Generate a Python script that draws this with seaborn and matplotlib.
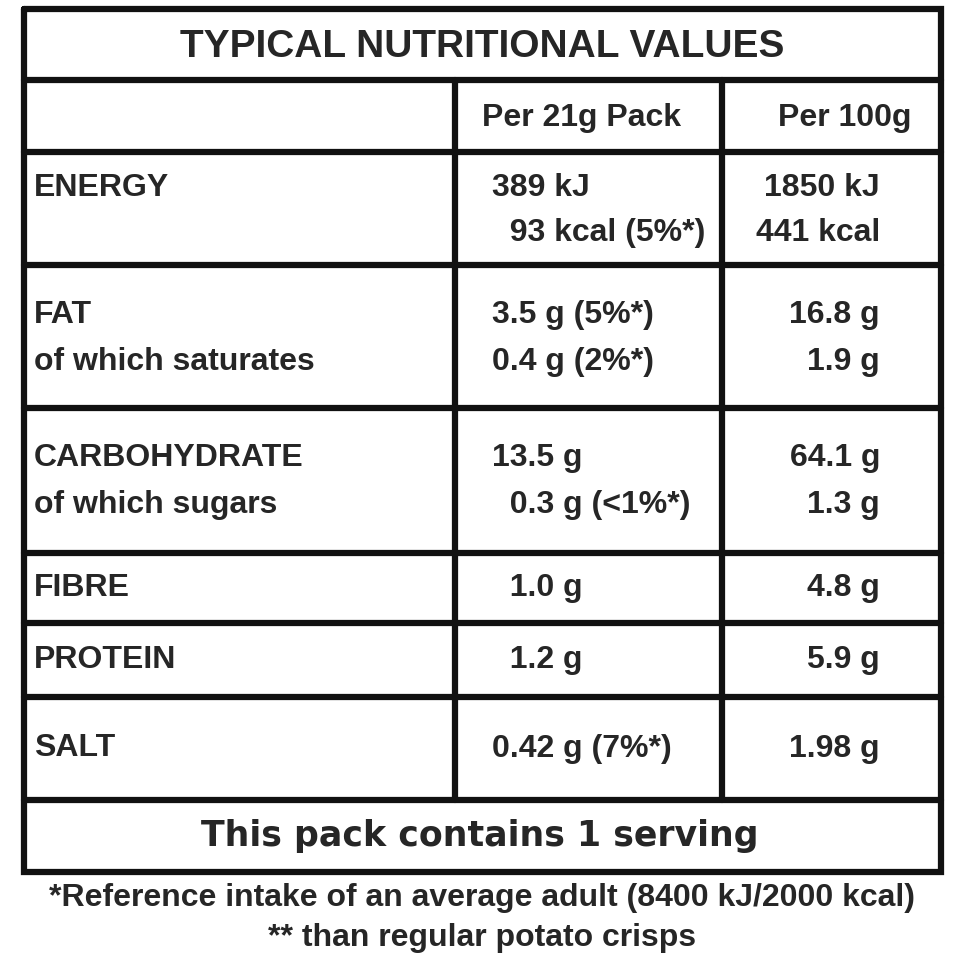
import matplotlib.pyplot as plt
import seaborn as sns

sns.set_style("white")
plt.rcParams['font.family'] = ['Liberation Sans', 'DejaVu Sans']

title = "TYPICAL NUTRITIONAL VALUES"
col_heads = ["Per 21g Pack", "Per 100g"]
row_labels = [["ENERGY"], ["FAT", "of which saturates"], ["CARBOHYDRATE", "of which sugars"],
              ["FIBRE"], ["PROTEIN"], ["SALT"]]
per_pack = [["389 kJ", "  93 kcal (5%*)"], ["3.5 g (5%*)", "0.4 g (2%*)"],
            ["13.5 g", "  0.3 g (<1%*)"], ["  1.0 g"], ["  1.2 g"], ["0.42 g (7%*)"]]
per_100g = [["1850 kJ", "441 kcal"], ["16.8 g", "1.9 g"], ["64.1 g", "1.3 g"],
            ["4.8 g"], ["5.9 g"], ["1.98 g"]]
footer = "This pack contains 1 serving"
notes = ["*Reference intake of an average adult (8400 kJ/2000 kcal)", "** than regular potato crisps"]

# row boundaries in pixels
bounds = [152, 265, 408, 553, 623, 697, 800]

fig = plt.figure(figsize=(9.6, 9.6), dpi=100)
ax = fig.add_axes([0, 0, 1, 1])
ax.set_xlim(0, 960)
ax.set_ylim(960, 0)
ax.axis('off')

L, R, T, B = 24, 941, 9, 872
lw = 4.5
ax.plot([L, R, R, L, L], [T, T, B, B, T], color='#111', lw=lw, solid_joinstyle='miter')
for y in [80] + bounds:
    ax.plot([L, R], [y, y], color='#111', lw=lw)
for x in [455, 722]:
    ax.plot([x, x], [80, 800], color='#111', lw=lw)

fs = 23
ax.text(482, 47, title, ha='center', va='center', fontsize=28, fontweight='bold')
ax.text(582, 118, col_heads[0], ha='center', va='center', fontsize=fs, fontweight='bold')
ax.text(845, 118, col_heads[1], ha='center', va='center', fontsize=fs, fontweight='bold')

for i in range(len(row_labels)):
    top, bot = bounds[i], bounds[i + 1]
    n = max(len(row_labels[i]), len(per_pack[i]))
    if n == 1:
        ys = [(top + bot) / 2]
    else:
        ys = [top + 36, top + 81] if bot - top < 130 else [top + 50, top + 97]
    for j, s in enumerate(row_labels[i]):
        ax.text(34, ys[j], s, va='center', fontsize=fs, fontweight='bold')
    for j, s in enumerate(per_pack[i]):
        ax.text(492, ys[j], s, va='center', fontsize=fs, fontweight='bold')
    for j, s in enumerate(per_100g[i]):
        ax.text(880, ys[j], s, va='center', ha='right', fontsize=fs, fontweight='bold')

ax.text(480, 836, footer, ha='center', va='center', fontsize=25, fontweight='bold',
        family=['DejaVu Sans'])
ax.text(482, 898, notes[0], ha='center', va='center', fontsize=23, fontweight='bold')
ax.text(482, 938, notes[1], ha='center', va='center', fontsize=23, fontweight='bold')

fig.savefig("out.png", dpi=100, facecolor='white')
